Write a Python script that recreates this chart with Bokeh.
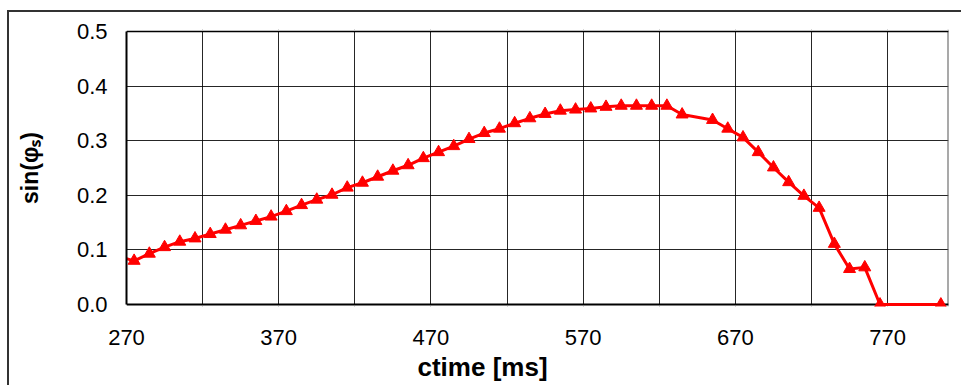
from bokeh.plotting import figure
from bokeh.models import (FixedTicker, NumeralTickFormatter, Title, ColumnDataSource,
                          Span, BoxAnnotation)
from bokeh.embed import file_html
from bokeh.resources import INLINE

# ---- data ----
ctime = [265, 275, 285, 295, 305, 315, 325, 335, 345, 355, 365, 375, 385, 395,
         405, 415, 425, 435, 445, 455, 465, 475, 485, 495, 505, 515, 525, 535,
         545, 555, 565, 575, 585, 595, 605, 615, 625, 635, 655, 665, 675, 685,
         695, 705, 715, 725, 735, 745, 755, 765, 805]
sin_phi_s = [0.088, 0.080, 0.093, 0.105, 0.115, 0.121, 0.129, 0.137, 0.145, 0.153,
             0.161, 0.171, 0.182, 0.192, 0.201, 0.214, 0.223, 0.234, 0.245, 0.255,
             0.268, 0.279, 0.290, 0.303, 0.314, 0.322, 0.332, 0.341, 0.349, 0.355,
             0.357, 0.359, 0.362, 0.364, 0.364, 0.364, 0.364, 0.348, 0.338, 0.322,
             0.306, 0.279, 0.251, 0.224, 0.199, 0.177, 0.111, 0.065, 0.068, 0.0, 0.0]
x_ticks = [270, 370, 470, 570, 670, 770]
x_minor = [320, 420, 520, 620, 720]
y_ticks = [0.0, 0.1, 0.2, 0.3, 0.4, 0.5]
x_title = "ctime [ms]"
y_title = "sin(φₛ)"

X0, X1 = 270, 810
Y0, Y1 = 0.0, 0.5
PL, PR, PT, PB = 126, 948, 31, 304   # plot-area edges in canvas px
PAD_T, PAD_B = 2, 2                  # extra frame room so marks on the edges show
W, H = 961, 385
ppu_y = (PB - PT) / (Y1 - Y0)

# outer chart border drawn by CSS behind a transparent canvas
border_css = ("linear-gradient(#333333,#333333) 7px 10px / 2px 100% no-repeat, "
              "linear-gradient(#333333,#333333) 7px 10px / 100% 2px no-repeat, white")

p = figure(width=W, height=H, x_range=(X0, X1),
           y_range=(Y0 - PAD_B / ppu_y, Y1 + PAD_T / ppu_y),
           output_backend="svg", toolbar_location=None,
           min_border_left=PL, min_border_right=W - PR,
           min_border_top=PT - PAD_T, min_border_bottom=H - PB - PAD_B,
           styles={"background": border_css})
p.background_fill_color = "white"
p.border_fill_color = None
p.outline_line_color = None

FONT = "Liberation Sans"

for ax in (p.xaxis, p.yaxis):
    ax.major_tick_line_color = None
    ax.minor_tick_line_color = None
    ax.major_label_text_font = FONT
    ax.major_label_text_font_size = "22px"
    ax.major_label_text_color = "#000000"

p.xaxis.axis_line_color = None
p.yaxis.axis_line_color = "#000000"
p.yaxis.axis_line_width = 2
p.yaxis.bounds = (Y0, Y1)

p.xaxis.ticker = FixedTicker(ticks=x_ticks, minor_ticks=x_minor)
p.yaxis.ticker = FixedTicker(ticks=y_ticks)
p.yaxis.formatter = NumeralTickFormatter(format="0.0")
p.xaxis.major_label_standoff = 17
p.yaxis.major_label_standoff = 13

p.yaxis.axis_label = y_title
p.yaxis.axis_label_text_font = FONT
p.yaxis.axis_label_text_font_size = "23px"
p.yaxis.axis_label_text_font_style = "bold"
p.yaxis.axis_label_text_color = "#000000"
p.yaxis.axis_label_standoff = 31

p.xgrid.grid_line_color = "#000000"
p.xgrid.grid_line_alpha = 0.85
p.xgrid.minor_grid_line_color = "#000000"
p.xgrid.minor_grid_line_alpha = 0.85
p.ygrid.grid_line_color = "#000000"
p.ygrid.grid_line_alpha = 0.85

# plot-area edges
p.add_layout(Span(location=X1, dimension="height", line_color="#555555",
                  line_width=2, level="underlay"))
p.add_layout(BoxAnnotation(top=Y0, fill_color="white", fill_alpha=1,
                           line_color=None, level="underlay"))
p.add_layout(BoxAnnotation(bottom=Y1, fill_color="white", fill_alpha=1,
                           line_color=None, level="underlay"))
p.add_layout(Span(location=Y0, dimension="width", line_color="#000000",
                  line_width=2, level="underlay"))
p.add_layout(Span(location=Y1, dimension="width", line_color="#000000",
                  line_width=1.5, level="underlay"))

src = ColumnDataSource(dict(x=ctime, y=sin_phi_s))
p.line("x", "y", source=src, line_color="#FF0000", line_width=3)
p.scatter("x", "y", source=src, marker="triangle", size=12,
          fill_color="#FF0000", line_color="#FF0000")

p.add_layout(Title(text=x_title, align="left", offset=291, text_font=FONT,
                   text_font_size="26px", text_font_style="bold",
                   text_color="#000000", standoff=4), "below")

open("out.html", "w").write(file_html(p, INLINE))
